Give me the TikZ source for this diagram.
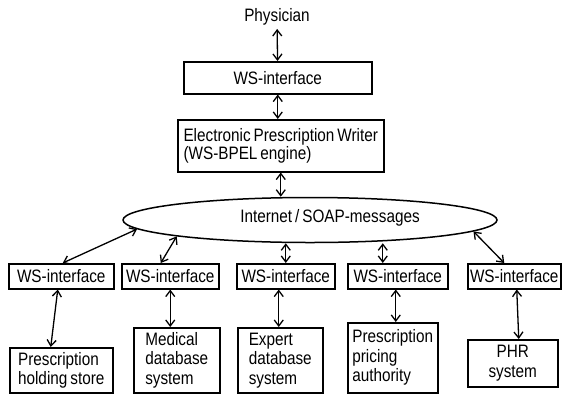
\documentclass[tikz,border=0pt]{standalone}
\usepackage{fontspec}
\setmainfont{Liberation Sans}[FakeStretch=0.85,WordSpace=0.7]
\usetikzlibrary{shapes.geometric,arrows.meta}
\tikzset{every node/.append style={font=\fontsize{18}{19.5}\selectfont}}
\tikzset{
    box/.style={draw, line width=1.5pt, anchor=north west, align=left,
    	inner sep=0pt},
    link/.style={{Straight Barb[length=6pt,width=9pt]}-{Straight Barb[length=6pt,width=9pt]},
    	line width=1.3pt}
}

\begin{document}
\begin{tikzpicture}[x=1pt, y=-1pt]
	\useasboundingbox (0,0) rectangle (569,394);
	\node (phys) at (277, 17) {Physician};
	\node (ws0) [box, minimum width=188, minimum height=32] at (183, 61) {WS-interface};
	\node (epw) [box, minimum width=206, minimum height=52] at (177, 119) {Electronic Prescription Writer\\[-2pt](WS-BPEL engine)};
	\node (net) [draw, ellipse, line width=1.5pt, minimum width=374, minimum height=45, inner sep=0pt] at (310, 220) {};
	\node (nettxt) at (330, 218) {Internet / SOAP-messages};
	
	\node (ws1) [box, minimum width=105, minimum height=25] at (8, 263) {WS-interface};
	\node (ws2) [box, minimum width=97, minimum height=25] at (121, 263) {WS-interface};
	\node (ws3) [box, minimum width=98, minimum height=25] at (236, 263) {WS-interface};
	\node (ws4) [box, minimum width=100, minimum height=25] at (347, 263) {WS-interface};
	\node (ws5) [box, minimum width=93, minimum height=25] at (467, 263) {WS-interface};
	
	\node (hold) [box, minimum width=103, minimum height=45] at (9, 347) {Prescription\\holding store};
	\node (med) [box, minimum width=86, minimum height=65] at (133, 327) {Medical\\database\\system};
	\node (exp) [box, minimum width=85, minimum height=65] at (237, 327) {Expert\\database\\system};
	\node (price) [box, minimum width=90, minimum height=70] at (347, 322) {Prescription\\pricing\\authority};
	\node (phr) [box, align=center, minimum width=90, minimum height=47] at (467, 339) {PHR\\system};
	
	\draw [link] (phys) -- (ws0);
	\draw [link] (ws0.south) -- (ws0.south |- epw.north);
	\draw [link] (epw.south) -- (epw.south |- net.north);
	
	\draw [link] (net.183) -- ([xshift=1.5]ws1.north);
	\draw [link] (net.187) -- ([xshift=-9.5]ws2.north);
	\draw [link] (ws3.north |- net.south) -- (ws3.north);
	\draw [link] ([xshift=-15]ws4.north |- net.south) -- ([xshift=-15]ws4.north);
	\draw [link] (net.-4) -- ([xshift=-10]ws5.north);
	
	\draw [link] ([xshift=-3.5]ws1.south) -- ([xshift=-10.5]hold.north);
	\draw [link] (ws2.south) -- (ws2.south |- med.north);
	\draw [link] ([xshift=-7]ws3.south) -- ([xshift=-7]ws3.south |- exp.north);
	\draw [link] ([xshift=-2]ws4.south) -- ([xshift=-2]ws4.south |- price.north);
	\draw [link] ([xshift=2.5]ws5.south) -- ([xshift=6]phr.north);
\end{tikzpicture}
\end{document}
